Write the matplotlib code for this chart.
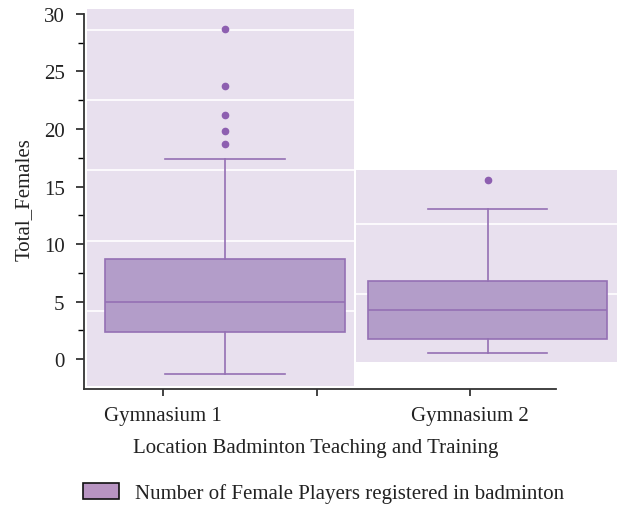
import matplotlib.pyplot as plt
from matplotlib.patches import Rectangle, Patch

# Data
groups = ['Gymnasium 1', 'Gymnasium 2']
q1 = [2.37, 1.77]
medians = [4.93, 4.26]
q3 = [8.66, 6.78]
whisk_lo = [-1.3, 0.52]
whisk_hi = [17.4, 13.04]
outliers = [[18.67, 19.85, 21.2, 23.7, 28.7], [15.54]]

# Background panels behind each group (y extent and white grid lines)
bg_lo = [-2.35, -0.29]
bg_hi = [30.43, 16.46]
bg_grid = [[4.15, 10.3, 16.4, 22.5, 28.58], [5.63, 11.7]]

tick_labels = ['Gymnasium 1', '', 'Gymnasium 2']

box_fill = '#b39dc9'
box_edge = '#9470b4'
flier_col = '#8d5fb0'
bg_col = '#e8e0ee'
txt_col = '#222222'

plt.rcParams['font.family'] = ['Liberation Serif', 'DejaVu Serif']
fs = 15

fig = plt.figure(figsize=(6.19, 5.06), dpi=100)
ax = fig.add_axes([84 / 619, 116 / 506, 533 / 619, 380 / 506])

positions = [0.404, 2.115]
bg_x = [(-0.495, 1.244), (1.257, 2.958)]

for i in range(2):
    x0, x1 = bg_x[i]
    ax.add_patch(Rectangle((x0, bg_lo[i]), x1 - x0, bg_hi[i] - bg_lo[i],
                           facecolor=bg_col, edgecolor='none', zorder=0,
                           clip_on=False))
    for g in bg_grid[i]:
        ax.plot([x0, x1], [g, g], color='white', lw=1.2, zorder=0.5,
                clip_on=False)

stats = []
for i in range(2):
    stats.append({'med': medians[i], 'q1': q1[i], 'q3': q3[i],
                  'whislo': whisk_lo[i], 'whishi': whisk_hi[i],
                  'fliers': outliers[i], 'label': groups[i]})

ax.bxp(stats, positions=positions, widths=1.56, patch_artist=True,
       showfliers=True,
       boxprops=dict(facecolor=box_fill, edgecolor=box_edge, lw=1.2),
       medianprops=dict(color=box_edge, lw=1.2),
       whiskerprops=dict(color=box_edge, lw=1.2),
       capprops=dict(color=box_edge, lw=1.2),
       capwidths=0.78,
       flierprops=dict(marker='o', markerfacecolor=flier_col,
                       markeredgecolor=flier_col, markersize=4.5))

ax.set_xlim(-0.515, 2.958)
ax.set_ylim(-2.6, 30.43)
ax.set_facecolor('none')

ax.spines['top'].set_visible(False)
ax.spines['right'].set_visible(False)
ax.spines['left'].set_bounds(-2.6, 30)
ax.spines['bottom'].set_bounds(-0.515, 2.56)
for s in ['left', 'bottom']:
    ax.spines[s].set_color('#333333')
    ax.spines[s].set_linewidth(1.3)

ax.set_xticks([0, 1, 2])
ax.set_xticklabels(tick_labels)
ax.set_yticks(range(0, 31, 5))
ax.set_yticks([2.5 + 5 * k for k in range(6)], minor=True)
ax.tick_params(axis='both', labelsize=fs, colors=txt_col)
ax.tick_params(axis='y', which='major', length=6, width=1.2, pad=8)
ax.tick_params(axis='y', which='minor', length=4, width=1.0)
ax.tick_params(axis='x', length=5, width=1.2, pad=7)

ax.set_ylabel('Total_Females', fontsize=fs, color=txt_col)
ax.yaxis.set_label_coords((34 - 84) / 533, 0.5)
ax.set_xlabel('Location Badminton Teaching and Training', fontsize=fs,
              color=txt_col)
ax.xaxis.set_label_coords((316 - 84) / 533, -0.13)

handle = Patch(facecolor='#b894c2', edgecolor='#111111', lw=1.2,
               label='Number of Female Players registered in badminton')
fig.legend(handles=[handle], loc='center left',
           bbox_to_anchor=(83 / 619, 1 - 494 / 506), frameon=False,
           fontsize=fs, handlelength=1.73, handleheight=0.77,
           handletextpad=0.75, borderpad=0, borderaxespad=0,
           labelcolor=txt_col)

fig.savefig('out.png', dpi=100)
